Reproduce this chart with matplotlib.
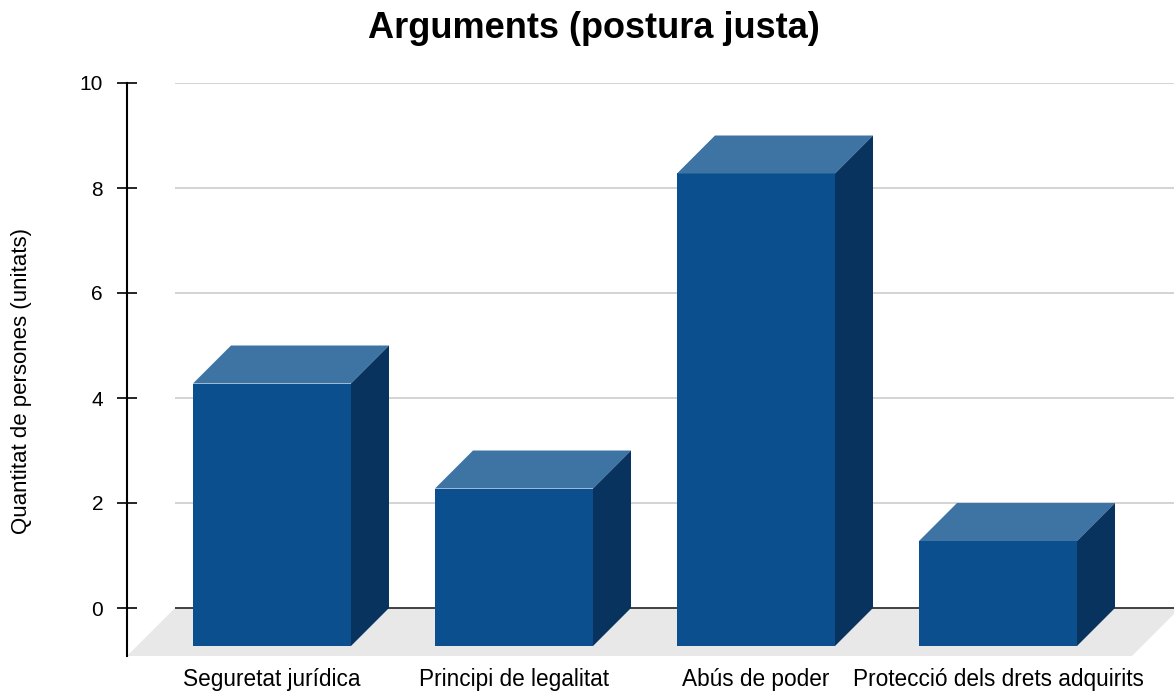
import matplotlib
matplotlib.use("Agg")
import matplotlib.pyplot as plt
from matplotlib.patches import Polygon

plt.rcParams['font.family'] = ['Liberation Sans', 'DejaVu Sans']

# ---- data ----
categories = ["Seguretat jurídica", "Principi de legalitat", "Abús de poder",
              "Protecció dels drets adquirits"]
values = [5, 3, 9, 2]
yticks = [0, 2, 4, 6, 8, 10]
title = "Arguments (postura justa)"
ylabel = "Quantitat de persones (unitats)"

# ---- style / geometry ----
W, H = 1174, 693
c_front = "#0b4f8e"
c_top = "#3e74a4"
c_side = "#08335f"
c_floor = "#e8e8e8"
c_grid = "#cccccc"
c_zero = "#333333"

fig = plt.figure(figsize=(W / 100, H / 100), dpi=100)
ax_left, ax_right, ax_top, ax_bottom = 127, 1174, 83, 656
ax = fig.add_axes([ax_left / W, (H - ax_bottom) / H,
                   (ax_right - ax_left) / W, (ax_bottom - ax_top) / H])

px_per_unit_y = 52.5
px_per_cat = 242.0
x0_px = 272.0
ymin = -(ax_bottom - 608) / px_per_unit_y
ax.set_ylim(ymin, 10)
ax.set_xlim((ax_left - x0_px) / px_per_cat, (ax_right - x0_px) / px_per_cat)

bar_dx = 38 / px_per_cat
bar_dy = 38 / px_per_unit_y
floor_dx = 48 / px_per_cat
floor_dy = -ymin
half_w = 158 / px_per_cat / 2

xl_back = (175 - x0_px) / px_per_cat
xr_back = (1180 - x0_px) / px_per_cat

floor = Polygon([(xl_back, 0), (xr_back, 0), (xr_back - floor_dx, -floor_dy),
                 (xl_back - floor_dx, -floor_dy)], closed=True,
                facecolor=c_floor, edgecolor="none", zorder=1, clip_on=True)
ax.add_patch(floor)

for t in yticks:
    ax.plot([xl_back, xr_back], [t, t], color=c_zero if t == 0 else c_grid,
            lw=1.3 if t == 0 else 1.2, zorder=2, solid_capstyle="butt")

for i, v in enumerate(values):
    xl, xr = i - half_w, i + half_w
    yb, yt = -bar_dy, v - bar_dy
    ax.add_patch(Polygon([(xl, yb), (xr, yb), (xr, yt), (xl, yt)],
                         facecolor=c_front, edgecolor="none", zorder=4))
    ax.add_patch(Polygon([(xl, yt), (xr, yt), (xr + bar_dx, v), (xl + bar_dx, v)],
                         facecolor=c_top, edgecolor="none", zorder=4))
    ax.add_patch(Polygon([(xr, yb), (xr, yt), (xr + bar_dx, v), (xr + bar_dx, 0)],
                         facecolor=c_side, edgecolor="none", zorder=4))

for s in ["top", "right", "bottom"]:
    ax.spines[s].set_visible(False)
ax.spines["left"].set_color("black")
ax.spines["left"].set_linewidth(1.5)
ax.set_yticks(yticks)
ax.set_yticklabels([str(t) for t in yticks])
ax.tick_params(axis="y", direction="inout", length=14.4, width=1.2,
               pad=10, labelsize=15, colors="black")
ax.set_xticks(range(len(categories)))
ax.set_xticklabels(categories)
ax.tick_params(axis="x", length=0, pad=8.3, labelsize=16.3)
ax.patch.set_alpha(0)

fig.text(594 / W, 1 - 38 / H, title, ha="center", va="baseline",
         fontsize=26, fontweight="bold")
fig.text(22 / W, 1 - 381 / H, ylabel, ha="center", va="center",
         rotation=90, fontsize=16)

fig.savefig("out.png", dpi=100)
